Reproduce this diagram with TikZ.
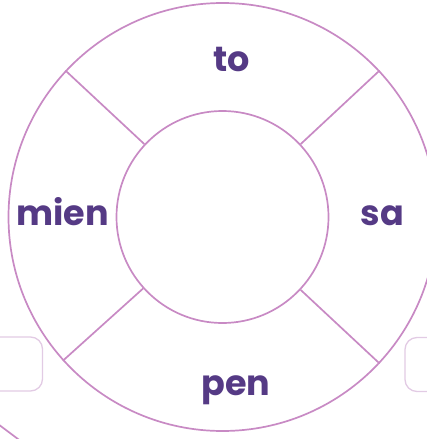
\documentclass[tikz,border=0pt]{standalone}
\usepackage{fontspec}
\setmainfont{Poppins}[BoldFont={* Bold}]
\definecolor{ringpink}{HTML}{C88AC4}
\definecolor{wordpurple}{HTML}{553A85}
\definecolor{boxlilac}{HTML}{E2CBE4}
\begin{document}
\begin{tikzpicture}[
	x=1pt,
	y=-1pt,
	ring/.style={circle, draw=ringpink, line width=1.7pt, inner sep=0pt},
	spoke/.style={draw=ringpink, line width=1.7pt},
	word/.style={font=\fontsize{35}{35}\selectfont\bfseries, text=wordpurple, anchor=base, inner sep=0pt},
	tab/.style={draw=boxlilac, line width=1.3pt, rounded corners=12pt}
	]
	\useasboundingbox (0,0) rectangle (426,439);

	\node[ring, minimum size=428pt] (outer) at (222.5,217) {};
	\node[ring, minimum size=212pt] (inner) at (222.5,217) {};

	\draw[spoke] (inner.137) -- (outer.137);
	\draw[spoke] (inner.43) -- (outer.43);
	\draw[spoke] (inner.-43) -- (outer.-43);
	\draw[spoke] (inner.-138) -- (outer.-138);

	\node[word] (to) at (231.5,71) {to};
	\node[word] (mien) at (62.5,225) {mien};
	\node[word] (sa) at (382.5,225) {sa};
	\node[word] (pen) at (236,395) {pen};

	% neighbouring pieces, cut by the page edge
	\node[tab, minimum width=62pt, minimum height=54pt] (lefttab) at (11.5,364) {};
	\node[tab, minimum width=62pt, minimum height=54pt] (righttab) at (436,364.5) {};
	\coordinate (tailA) at (-6,421);
	\coordinate (tailB) at (26,445);
	\draw[spoke] (tailA) -- (tailB);
\end{tikzpicture}
\end{document}
